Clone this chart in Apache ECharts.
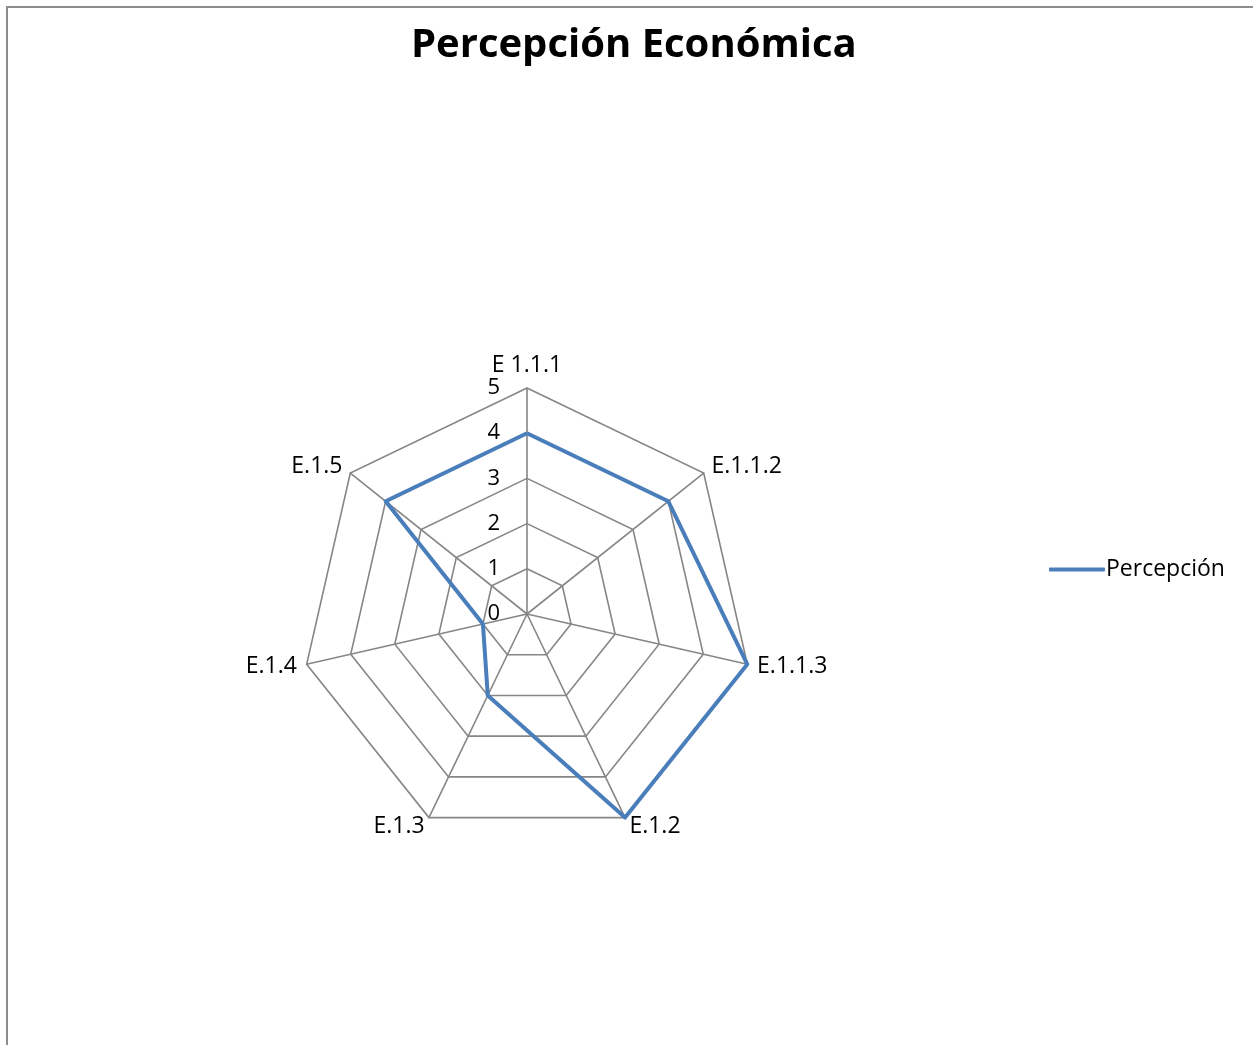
<!DOCTYPE html>
<html>
<head>
<meta charset="utf-8">
<script src="https://cdn.jsdelivr.net/npm/echarts@6/dist/echarts.min.js"></script>
<style>
  body { margin: 0; background: #fff; }
  #main { width: 1253px; height: 1045px; }
  #frame { position: absolute; left: 6px; top: 6px; width: 1300px; height: 1100px;
           border-top: 2px solid #8c8c8c; border-left: 2px solid #8c8c8c; pointer-events: none; }
</style>
</head>
<body>
<div id="main"></div>
<div id="frame"></div>
<script>
const chart = echarts.init(document.querySelector('#main'));

// ejes en sentido horario desde arriba
const categories = ['E 1.1.1', 'E.1.1.2', 'E.1.1.3', 'E.1.2', 'E.1.3', 'E.1.4', 'E.1.5'];
const values = [4, 4, 5, 5, 2, 1, 4];
const seriesName = 'Percepción';
const maxValue = 5;

const font = 'Open Sans';

// echarts dibuja el radar en sentido antihorario: invertir todo menos el primero
const clockwise = (arr) => [arr[0]].concat(arr.slice(1).reverse());

let option = {
    title: {
        text: 'Percepción Económica',
        left: 406,
        top: 21,
        textStyle: { fontFamily: font, fontSize: 40, fontWeight: 'bold', color: '#000' }
    },
    legend: {
        orient: 'vertical',
        left: 1044,
        top: 553,
        icon: 'roundRect',
        itemWidth: 56,
        itemHeight: 4,
        itemGap: 4,
        data: [seriesName],
        textStyle: { fontFamily: font, fontSize: 23, color: '#000', padding: [0, 0, 0, -4] }
    },
    radar: {
        center: [527, 614],
        radius: 226,
        shape: 'polygon',
        splitNumber: 5,
        nameGap: 10,
        axisName: { color: '#000', fontFamily: font, fontSize: 23 },
        indicator: clockwise(categories).map((c, i) => ({
            name: c, min: 0, max: maxValue,
            axisLabel: { show: i === 0 }
        })),
        axisLine: { lineStyle: { color: '#868686', width: 1.6 } },
        splitLine: { lineStyle: { color: '#868686', width: 1.6 } },
        splitArea: { show: false },
        axisTick: { show: false },
        axisLabel: {
            color: '#000', fontFamily: font, fontSize: 22, margin: 27,
            padding: [6, 0, 0, 0]
        }
    },
    series: [
        {
            type: 'radar',
            symbol: 'none',
            lineStyle: { color: '#4a7ebb', width: 4 },
            itemStyle: { color: '#4a7ebb' },
            data: [{ name: seriesName, value: clockwise(values) }]
        }
    ]
};
chart.setOption(option);
</script>
</body>
</html>
